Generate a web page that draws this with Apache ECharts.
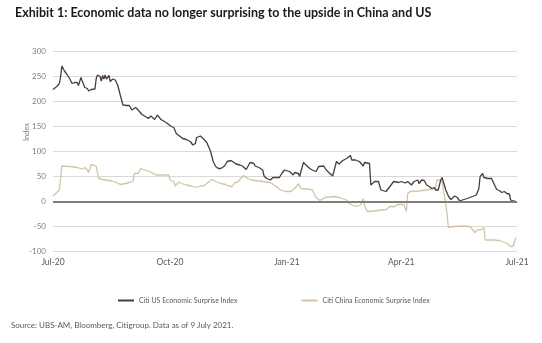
<!DOCTYPE html>
<html><head><meta charset="utf-8">
<script src="https://cdn.jsdelivr.net/npm/echarts@6/dist/echarts.min.js"></script>
<style>html,body{margin:0;padding:0;background:#fff}#c{width:542px;height:343px}</style>
</head><body><div id="c"></div>
<script>
const titleText = 'Exhibit 1: Economic data no longer surprising to the upside in China and US';
const sourceText = 'Source: UBS-AM, Bloomberg, Citigroup. Data as of 9 July 2021.';
const seriesNames = ['Citi US Economic Surprise Index', 'Citi China Economic Surprise Index'];
const tickDates = ['2020-07-01', '2020-10-01', '2021-01-01', '2021-04-01', '2021-07-01'];
const tickLabels = ['Jul-20', 'Oct-20', 'Jan-21', 'Apr-21', 'Jul-21'];

const usDates = ['2020-07-01','2020-07-04','2020-07-06','2020-07-07','2020-07-08','2020-07-10','2020-07-12','2020-07-14','2020-07-16','2020-07-18','2020-07-20','2020-07-21','2020-07-23','2020-07-24','2020-07-26','2020-07-28','2020-07-29','2020-07-31',
'2020-08-03','2020-08-04','2020-08-05','2020-08-07','2020-08-08','2020-08-09','2020-08-10','2020-08-11','2020-08-12','2020-08-14','2020-08-15','2020-08-17','2020-08-19','2020-08-21','2020-08-23','2020-08-25','2020-08-28','2020-08-30',
'2020-09-01','2020-09-02','2020-09-04','2020-09-06','2020-09-09','2020-09-11','2020-09-14','2020-09-16','2020-09-19','2020-09-21','2020-09-24','2020-09-28',
'2020-10-02','2020-10-04','2020-10-06','2020-10-09','2020-10-11','2020-10-14','2020-10-17','2020-10-19','2020-10-21','2020-10-22','2020-10-25','2020-10-27','2020-10-30',
'2020-11-01','2020-11-02','2020-11-04','2020-11-06','2020-11-08','2020-11-10','2020-11-13','2020-11-15','2020-11-18','2020-11-19','2020-11-22','2020-11-25','2020-11-27','2020-11-30',
'2020-12-03','2020-12-06','2020-12-07','2020-12-10','2020-12-13','2020-12-14','2020-12-16','2020-12-19','2020-12-21','2020-12-26','2020-12-28','2020-12-30',
'2021-01-03','2021-01-06','2021-01-07','2021-01-10','2021-01-11','2021-01-14','2021-01-16','2021-01-19','2021-01-21','2021-01-24','2021-01-26','2021-01-30',
'2021-02-01','2021-02-03','2021-02-06','2021-02-07','2021-02-09','2021-02-11','2021-02-14','2021-02-17','2021-02-18','2021-02-20','2021-02-21','2021-02-24','2021-02-27',
'2021-03-02','2021-03-03','2021-03-07','2021-03-08','2021-03-11','2021-03-14','2021-03-16','2021-03-20','2021-03-23','2021-03-26','2021-03-30',
'2021-04-01','2021-04-04','2021-04-06','2021-04-09','2021-04-11','2021-04-14','2021-04-15','2021-04-17','2021-04-19','2021-04-21','2021-04-23','2021-04-25','2021-04-27','2021-04-28','2021-04-30',
'2021-05-02','2021-05-03','2021-05-04','2021-05-06','2021-05-08','2021-05-10','2021-05-11','2021-05-13','2021-05-15','2021-05-17','2021-05-19','2021-05-23','2021-05-27','2021-05-30',
'2021-06-01','2021-06-02','2021-06-04','2021-06-05','2021-06-08','2021-06-11','2021-06-13','2021-06-15','2021-06-17','2021-06-19','2021-06-21','2021-06-23','2021-06-25','2021-06-26','2021-06-28','2021-06-30'];
const usValues = [224,230,236,250,271,261,254,246,236,238,238,232,248,241,228,226,221,224,
225,246,253,250,241,252,245,253,245,252,240,245,243,232,212,193,192,192,
183,180,188,183,174,171,166,171,164,173,164,158,
150,148,136,130,126,124,120,113,116,128,131,126,118,
106,100,80,70,66,66,71,80,82,80,75,73,71,64,
78,76,71,68,63,51,46,43,48,48,56,63,
60,53,58,56,50,78,73,66,63,60,70,71,
63,58,51,48,80,75,82,86,84,92,83,83,80,
71,78,76,33,40,40,23,20,30,40,38,
40,37,40,33,40,43,36,43,42,33,30,26,28,23,23,
43,48,40,23,11,4,0,11,8,1,3,6,10,13,
26,50,56,48,46,46,35,24,22,18,20,16,15,3,1,0];

const cnDates = ['2020-07-01','2020-07-04','2020-07-06','2020-07-07','2020-07-08','2020-07-14','2020-07-20','2020-07-24','2020-07-26','2020-07-28','2020-07-29','2020-07-31',
'2020-08-02','2020-08-04','2020-08-06','2020-08-09','2020-08-16','2020-08-20','2020-08-23','2020-08-24','2020-08-27','2020-08-30',
'2020-09-02','2020-09-03','2020-09-06','2020-09-08','2020-09-10','2020-09-14','2020-09-18','2020-09-20','2020-09-30',
'2020-10-01','2020-10-04','2020-10-05','2020-10-08','2020-10-10','2020-10-14','2020-10-18','2020-10-22','2020-10-25','2020-10-28','2020-10-31',
'2020-11-03','2020-11-06','2020-11-10','2020-11-14','2020-11-16','2020-11-19','2020-11-21','2020-11-23','2020-11-25','2020-11-28',
'2020-12-01','2020-12-04','2020-12-10','2020-12-19','2020-12-23','2020-12-27','2020-12-31',
'2021-01-04','2021-01-07','2021-01-10','2021-01-12','2021-01-17','2021-01-21','2021-01-24','2021-01-27','2021-01-31',
'2021-02-07','2021-02-11','2021-02-17','2021-02-19','2021-02-21','2021-02-25','2021-02-28',
'2021-03-02','2021-03-03','2021-03-05','2021-03-10','2021-03-20','2021-03-23','2021-03-27','2021-03-29',
'2021-04-03','2021-04-05','2021-04-06','2021-04-08','2021-04-15','2021-04-23','2021-04-28','2021-04-29',
'2021-05-01','2021-05-03','2021-05-05','2021-05-07','2021-05-08','2021-05-12','2021-05-19','2021-05-25','2021-05-29','2021-05-31',
'2021-06-03','2021-06-05','2021-06-06','2021-06-12','2021-06-17','2021-06-22','2021-06-26','2021-06-28','2021-06-30'];
const cnValues = [11,18,23,46,71,70,68,65,68,63,58,74,
73,70,46,44,41,38,34,37,36,38,
41,56,56,66,64,61,56,53,53,
43,40,31,39,36,33,31,28,31,32,38,
44,40,36,34,31,30,38,38,44,52,
46,43,41,38,31,23,20,
20,26,35,26,25,23,8,2,8,
10,8,3,-4,-7,-10,-7,
6,-7,-20,-19,-16,-10,-10,-6,
-6,-20,16,20,21,24,26,43,
43,40,10,-24,-52,-50,-49,-50,-62,-57,
-56,-52,-77,-77,-78,-82,-90,-89,-72];

const yMin = -100, yMax = 300, yStep = 50;

function ts(s) { const p = s.split('-').map(Number); return Date.UTC(p[0], p[1] - 1, p[2]); }
const tickTs = tickDates.map(ts);
const usData = usDates.map((d, i) => [ts(d), usValues[i]]);
const cnData = cnDates.map((d, i) => [ts(d), cnValues[i]]);

const FONT = 'Lato, "Open Sans", sans-serif';
const chart = echarts.init(document.getElementById('c'), null, { renderer: 'canvas' });
chart.setOption({
  animation: false,
  backgroundColor: '#ffffff',
  textStyle: { fontFamily: FONT },
  title: {
    text: titleText, left: 10, top: 1,
    textStyle: { fontFamily: FONT, fontSize: 12.5, fontWeight: 'bold', color: '#1a1a1a' }
  },
  grid: { left: 53, right: 25, top: 51.5, bottom: 91.5, containLabel: false },
  legend: {
    left: 113, top: 292, itemWidth: 16, itemHeight: 2, itemGap: 64, icon: 'rect',
    textStyle: { fontSize: 7, color: '#595959', fontFamily: FONT },
    data: seriesNames
  },
  xAxis: {
    type: 'value', min: tickTs[0], max: tickTs[tickTs.length - 1],
    axisLine: { show: false, onZero: false }, axisTick: { show: false },
    splitLine: { show: false },
    axisLabel: {
      customValues: tickTs, margin: 6, fontSize: 8.5, color: '#595959', fontFamily: FONT,
      hideOverlap: false, showMinLabel: true, showMaxLabel: true,
      formatter: function (v) { const i = tickTs.indexOf(v); return i >= 0 ? tickLabels[i] : ''; }
    }
  },
  yAxis: {
    type: 'value', min: yMin, max: yMax, interval: yStep,
    axisLine: { show: false }, axisTick: { show: false },
    axisLabel: { margin: 7, fontSize: 8, color: '#7f7f7f', fontFamily: FONT },
    splitLine: { lineStyle: { color: '#d9d9d9', width: 1.2 } }
  },
  graphic: [
    { type: 'text', left: 11, top: 321, style: { text: sourceText, fontSize: 8, fill: '#595959', fontFamily: FONT } },
    { type: 'text', x: 23, y: 141, rotation: Math.PI / 2, style: { text: 'Index', fontSize: 7.5, fill: '#7f7f7f', fontFamily: FONT } }
  ],
  series: [
    {
      name: seriesNames[1], type: 'line', data: cnData, showSymbol: false, z: 2,
      lineStyle: { color: '#d3c4a8', width: 1.3 }, itemStyle: { color: '#d3c4a8' },
      markLine: { silent: true, symbol: 'none', label: { show: false }, data: [{ yAxis: 0 }], lineStyle: { color: '#7f7f7f', width: 2, type: 'solid' } }
    },
    {
      name: seriesNames[0], type: 'line', data: usData, showSymbol: false, z: 3,
      lineStyle: { color: '#4a3e38', width: 1.3 }, itemStyle: { color: '#4a3e38' }
    }
  ]
});
</script></body></html>
